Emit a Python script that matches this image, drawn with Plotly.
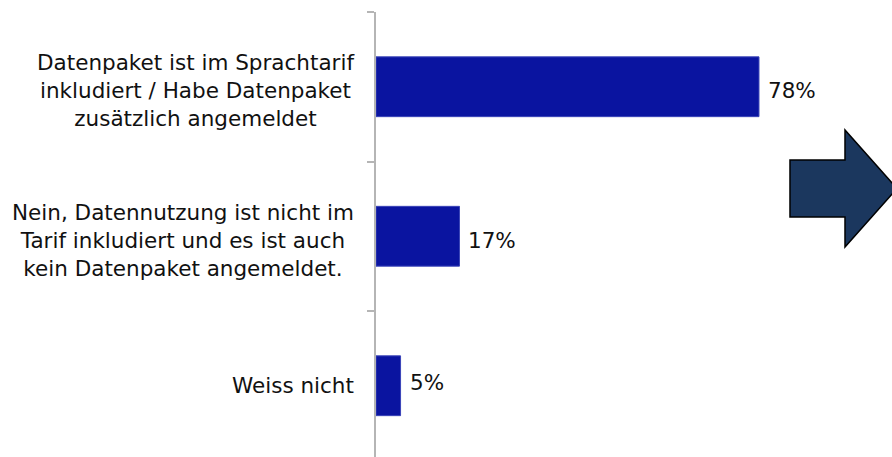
import plotly.graph_objects as go

categories = [
    "Datenpaket ist im Sprachtarif<br>inkludiert / Habe Datenpaket<br>zusätzlich angemeldet",
    "Nein, Datennutzung ist nicht im<br>Tarif inkludiert und es ist auch<br>kein Datenpaket angemeldet.",
    "Weiss nicht",
]
values = [78, 17, 5]
value_labels = ["78%", "17%", "5%"]

W, H = 892, 457
L, T, B, R = 376, 12, 0, 0
pw, ph = W - L - R, H - T - B
px_per_pct = 4.91
cat_px = 149.5

fig = go.Figure(go.Bar(
    x=values, y=list(range(len(categories))), orientation="h",
    marker=dict(color="#0a14a0", line=dict(color="#3a44b8", width=1)),
    width=0.4, hoverinfo="skip",
))

font = "DejaVu Sans, sans-serif"
anns = []
for i, c in enumerate(categories):
    anns.append(dict(x=-20 / pw, xref="paper", y=i, yref="y", text=c, showarrow=False,
                     xanchor="right", yanchor="middle", align="center",
                     font=dict(family=font, size=21.5, color="#111111"), yshift=-4 if "<br>" in c else 0))
for i, (v, t) in enumerate(zip(values, value_labels)):
    anns.append(dict(x=v, xref="x", y=i, yref="y", text=t, showarrow=False,
                     xanchor="left", yanchor="middle", xshift=7, yshift=-4 if i < 2 else 3,
                     font=dict(family=font, size=21.5, color="#111111")))

def P(x, y):
    return f"{(x - L) / pw:.4f},{(H - B - y) / ph:.4f}"

pts = [(790, 160), (845, 160), (845, 130), (897, 188.5), (845, 247), (845, 217), (790, 217)]
path = "M " + " L ".join(P(x, y) for x, y in pts) + " Z"

fig.update_layout(
    width=W, height=H, margin=dict(l=L, r=R, t=T, b=B),
    paper_bgcolor="white", plot_bgcolor="white", showlegend=False,
    xaxis=dict(range=[0, pw / px_per_pct], visible=False),
    yaxis=dict(range=[-0.5 + ph / cat_px, -0.5],
               tickmode="array", tickvals=[-0.5, 0.5, 1.5, 2.5], ticktext=["", "", "", ""],
               ticks="outside", ticklen=7, tickcolor="#b5b5b5", tickwidth=2,
               showline=True, linecolor="#b5b5b5", linewidth=2, showgrid=False, zeroline=False),
    annotations=anns,
    shapes=[dict(type="path", xref="paper", yref="paper", path=path,
                 fillcolor="#1b375e", line=dict(color="black", width=1.5), layer="above")],
)
fig.write_html("out.html", config={"displayModeBar": False},
               post_script="document.body.style.margin='0';document.body.style.overflow='hidden';")
